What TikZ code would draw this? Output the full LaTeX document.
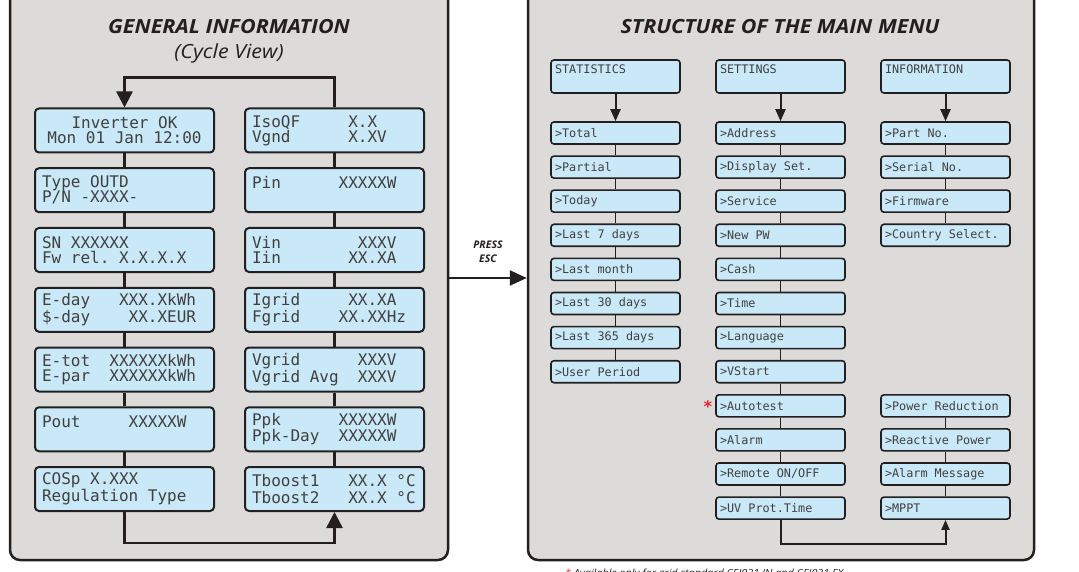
\documentclass[tikz,border=0pt]{standalone}
\usepackage{fontspec}
\setmainfont{Open Sans}
\newfontfamily\titlefont{Open Sans}[FakeStretch=1.1]
\newfontfamily\lcd{DejaVu Sans Mono}
\usetikzlibrary{arrows.meta}
\definecolor{panelgrey}{HTML}{DCDBDA}
\definecolor{lcdblue}{HTML}{C9E8F8}
\definecolor{edge}{HTML}{231F20}
\definecolor{lcdtext}{HTML}{404040}
\definecolor{starred}{HTML}{E32227}
\newcommand\bl{\hphantom{X}}
\begin{document}
\begin{tikzpicture}[x=1pt,y=-1pt,
 panel/.style={draw=edge,line width=2.5pt,fill=panelgrey,rounded corners=10pt,inner sep=0pt},
 bigbox/.style={draw=edge,line width=2pt,fill=lcdblue,rounded corners=4pt,minimum width=179pt,minimum height=44pt,inner sep=0pt,text width=165pt,align=left,text=lcdtext,font=\lcd\fontsize{16}{15}\selectfont},
 item/.style={draw=edge,line width=1.6pt,fill=lcdblue,rounded corners=3pt,minimum width=129pt,minimum height=22pt,inner sep=0pt,text width=121pt,align=left,text=lcdtext,font=\lcd\fontsize{11.8}{14}\selectfont},
 hdr/.style={item,minimum height=33pt},
 link/.style={draw=edge,line width=2.5pt},
 linkm/.style={draw=edge,line width=2pt},
 thin/.style={draw=edge,line width=1.4pt},
 title/.style={font=\titlefont\fontsize{19.5}{23}\selectfont\bfseries\itshape,text=edge},
 subtitle/.style={font=\titlefont\fontsize{19.5}{23}\selectfont\itshape,text=edge},
]
\useasboundingbox (0,0) rectangle (1079,572);
% panels
\node[panel,minimum width=438pt,minimum height=570pt] (lp) at (229,275) {};
\node[panel,minimum width=506pt,minimum height=570pt] (rp) at (781,275) {};
% titles
\node[title] (t1) at (229,27) {GENERAL INFORMATION};
\node[subtitle] (t2) at (229,53) {(Cycle View)};
\node[title] (t3) at (780,27) {STRUCTURE OF THE MAIN MENU};
% press esc
\node[font=\fontsize{10.5}{13.5}\selectfont\bfseries\itshape,text=edge,align=center] (pe) at (488,252) {PRESS\\ESC};
\coordinate (ey) at (0,278);
\draw[link,-{Triangle[length=17pt,width=15pt]}] (lp.east |- ey) -- (rp.west |- ey);
% left column
\node[bigbox,align=center] (l1) at (124.5,130.5) {Inverter\bl OK\\Mon\bl 01\bl Jan\bl 12:00};
\node[bigbox] (l2) at (124.5,190.25) {Type\bl OUTD\\P/N\bl -XXXX-};
\node[bigbox] (l3) at (124.5,250) {SN\bl XXXXXX\\Fw\bl rel.\bl X.X.X.X};
\node[bigbox] (l4) at (124.5,309.75) {E-day\bl\bl\bl XXX.XkWh\\\$-day\bl\bl\bl\bl XX.XEUR};
\node[bigbox] (l5) at (124.5,369.5) {E-tot\bl\bl XXXXXXkWh\\E-par\bl\bl XXXXXXkWh};
\node[bigbox] (l6) at (124.5,429.25) {Pout\bl\bl\bl\bl\bl XXXXXW\\\mbox{}};
\node[bigbox] (l7) at (124.5,489) {COSp\bl X.XXX\\Regulation\bl Type};
% right column
\node[bigbox] (r1) at (334.5,130.5) {IsoQF\bl\bl\bl\bl\bl X.X\\Vgnd\bl\bl\bl\bl\bl\bl X.XV};
\node[bigbox] (r2) at (334.5,190.25) {Pin\bl\bl\bl\bl\bl\bl XXXXXW\\\mbox{}};
\node[bigbox] (r3) at (334.5,250) {Vin\bl\bl\bl\bl\bl\bl\bl\bl XXXV\\Iin\bl\bl\bl\bl\bl\bl\bl XX.XA};
\node[bigbox] (r4) at (334.5,309.75) {Igrid\bl\bl\bl\bl\bl XX.XA\\Fgrid\bl\bl\bl\bl XX.XXHz};
\node[bigbox] (r5) at (334.5,369.5) {Vgrid\bl\bl\bl\bl\bl\bl XXXV\\Vgrid\bl Avg\bl\bl XXXV};
\node[bigbox] (r6) at (334.5,429.25) {Ppk\bl\bl\bl\bl\bl\bl XXXXXW\\Ppk-Day\bl\bl XXXXXW};
\node[bigbox,font=\lcd\fontsize{16}{16.5}\selectfont] (r7) at (334.5,489) {Tboost1\bl\bl\bl XX.X\bl °C\\Tboost2\bl\bl\bl XX.X\bl °C};
\foreach \a/\b in {l1/l2,l2/l3,l3/l4,l4/l5,l5/l6,l6/l7,r1/r2,r2/r3,r3/r4,r4/r5,r5/r6,r6/r7}
  \draw[link] (\a.south) -- (\b.north);
\draw[link,-{Triangle[length=16pt,width=16pt]}] (r1.north) -- ++(0,-30) -| (l1.north);
\draw[link,-{Triangle[length=16pt,width=16pt]}] (l7.south) -- ++(0,31) -| (r7.south);
% main menu headers
\node[hdr] (sh) at (615.5,76.5) {STATISTICS\\\mbox{}};
\node[hdr] (th) at (780.5,76.5) {SETTINGS\\\mbox{}};
\node[hdr] (ih) at (945.5,76.5) {INFORMATION\\\mbox{}};
% statistics
\node[item] (s0) at (615.5,133) {>Total};
\node[item] (s1) at (615.5,167.1) {>Partial};
\node[item] (s2) at (615.5,201.2) {>Today};
\node[item] (s3) at (615.5,235.3) {>Last\bl 7\bl days};
\node[item] (s4) at (615.5,269.4) {>Last\bl month};
\node[item] (s5) at (615.5,303.5) {>Last\bl 30\bl days};
\node[item] (s6) at (615.5,337.6) {>Last\bl 365\bl days};
\node[item] (s7) at (615.5,371.7) {>User\bl Period};
% settings
\node[item] (t0) at (780.5,133) {>Address};
\node[item] (t1s) at (780.5,167.1) {>Display\bl Set.};
\node[item] (t2s) at (780.5,201.2) {>Service};
\node[item] (t3s) at (780.5,235.3) {>New\bl PW};
\node[item] (t4) at (780.5,269.4) {>Cash};
\node[item] (t5) at (780.5,303.5) {>Time};
\node[item] (t6) at (780.5,337.6) {>Language};
\node[item] (t7) at (780.5,371.7) {>VStart};
\node[item] (t8) at (780.5,405.8) {>Autotest};
\node[item] (t9) at (780.5,439.9) {>Alarm};
\node[item] (t10) at (780.5,474) {>Remote\bl ON/OFF};
\node[item] (t11) at (780.5,508.1) {>UV\bl Prot.Time};
% information
\node[item] (i0) at (945.5,133) {>Part\bl No.};
\node[item] (i1) at (945.5,167.1) {>Serial\bl No.};
\node[item] (i2) at (945.5,201.2) {>Firmware};
\node[item] (i3) at (945.5,235.3) {>Country\bl Select.};
\node[item] (i8) at (945.5,405.8) {>Power\bl Reduction};
\node[item] (i9) at (945.5,439.9) {>Reactive\bl Power};
\node[item] (i10) at (945.5,474) {>Alarm\bl Message};
\node[item] (i11) at (945.5,508.1) {>MPPT};
\foreach \a/\b in {sh/s0,th/t0,ih/i0}
  \draw[linkm,-{Triangle[length=12pt,width=10pt]}] (\a.south) -- (\b.north);
\foreach \a/\b in {s0/s1,s1/s2,s2/s3,s3/s4,s4/s5,s5/s6,s6/s7,t0/t1s,t1s/t2s,t2s/t3s,t3s/t4,t4/t5,t5/t6,t6/t7,t7/t8,t8/t9,t9/t10,t10/t11,i0/i1,i1/i2,i2/i3,i8/i9,i9/i10,i10/i11}
  \draw[thin] (\a.south) -- (\b.north);
\draw[linkm,-{Triangle[length=10pt,width=8pt]}] (t11.south) -- ++(0,24) -| (i11.south);
% asterisk and footnote
\node[text=starred,font=\lcd\bfseries\fontsize{16}{16}\selectfont,inner sep=0pt] (ast) at (708,407) {*};
\node[anchor=base west,font=\titlefont\itshape\fontsize{9.8}{12}\selectfont,text=edge,inner sep=0pt] (fn) at (565,576) {\textcolor{starred}{*} Available only for grid standard CEI021 IN and CEI021 EX};
\end{tikzpicture}
\end{document}
